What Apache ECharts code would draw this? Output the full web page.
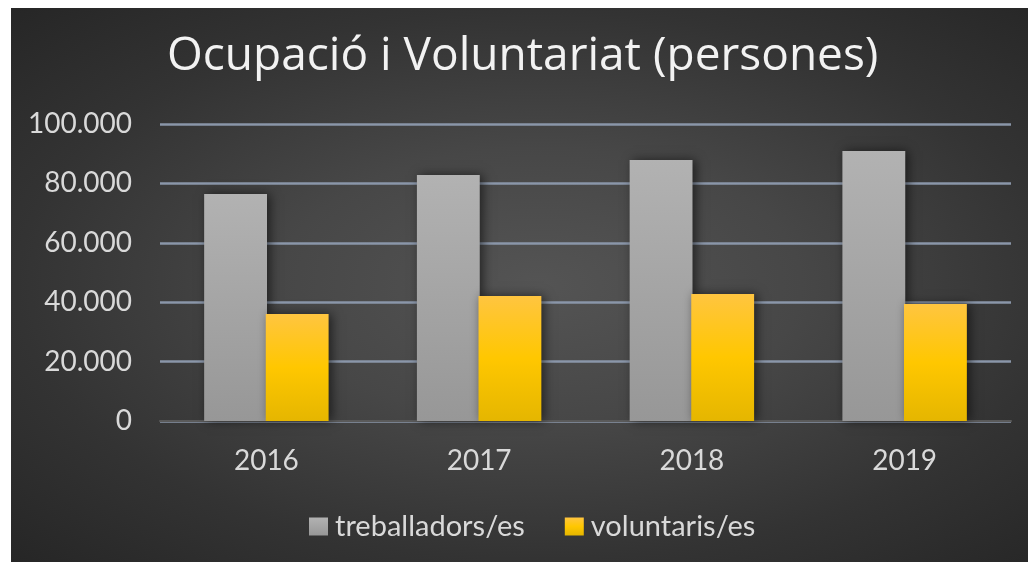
<!DOCTYPE html>
<html>
<head>
<meta charset="utf-8">
<script src="https://cdn.jsdelivr.net/npm/echarts@6/dist/echarts.min.js"></script>
<style>
    html, body { margin: 0; padding: 0; background: #fff; }
    #bg {
        position: absolute; left: 11px; top: 8px; width: 1017px; height: 554px;
        background: radial-gradient(ellipse at 52% 50%, #545454 0%, #474747 35%, #333333 70%, #262626 100%);
    }
    #chart { position: absolute; left: 0; top: 0; width: 1028px; height: 562px; }
</style>
</head>
<body>
<div id="bg"></div>
<div id="chart"></div>
<script>
    // dades llegides del gràfic
    const years = ['2016', '2017', '2018', '2019'];
    const treballadors = [76400, 82800, 87900, 90900];
    const voluntaris = [36000, 42100, 42800, 39400];
    const yTicks = { min: 0, max: 100000, interval: 20000 };

    const textColor = '#d9d9d9';
    const font = 'Lato';

    let chart = echarts.init(document.getElementById('chart'));

    let grayFill = new echarts.graphic.LinearGradient(0, 0, 0, 1, [
        { offset: 0, color: '#b2b2b2' },
        { offset: 1, color: '#979797' }
    ]);
    let yellowFill = new echarts.graphic.LinearGradient(0, 0, 0, 1, [
        { offset: 0, color: '#ffc540' },
        { offset: 0.5, color: '#ffc700' },
        { offset: 1, color: '#e5b600' }
    ]);

    let shadow = {
        shadowBlur: 10,
        shadowColor: 'rgba(0, 0, 0, 0.55)',
        shadowOffsetX: 3,
        shadowOffsetY: 0
    };

    let option = {
        backgroundColor: 'transparent',
        animation: false,
        title: {
            text: 'Ocupació i Voluntariat (persones)',
            left: 162,
            top: 29,
            textStyle: {
                color: '#f2f2f2',
                fontFamily: 'Open Sans',
                fontWeight: 'normal',
                fontSize: 46
            }
        },
        legend: {
            bottom: 16,
            left: 304,
            itemWidth: 19,
            itemHeight: 18,
            itemGap: 40,
            icon: 'rect',
            textStyle: {
                color: textColor,
                fontFamily: font,
                fontSize: 29,
                padding: [0, 0, 0, 2]
            },
            data: ['treballadors/es', 'voluntaris/es']
        },
        grid: {
            left: 160,
            right: 17,
            top: 124,
            bottom: 141,
            containLabel: false
        },
        xAxis: {
            type: 'category',
            data: years,
            axisTick: { show: false },
            axisLine: { lineStyle: { color: '#5a5a5a', width: 2 } },
            axisLabel: {
                color: textColor,
                fontFamily: font,
                fontSize: 28,
                margin: 26
            }
        },
        yAxis: {
            type: 'value',
            min: yTicks.min,
            max: yTicks.max,
            interval: yTicks.interval,
            axisLine: { show: false },
            axisTick: { show: false },
            splitLine: { lineStyle: { color: '#8a96a9', width: 2.5 } },
            axisLabel: {
                color: textColor,
                fontFamily: font,
                fontSize: 28,
                margin: 28,
                formatter: v => v === 0 ? '0' : v.toLocaleString('de-DE')
            }
        },
        series: [
            {
                name: 'treballadors/es',
                type: 'bar',
                data: treballadors,
                barGap: '-2%',
                barCategoryGap: '41.5%',
                itemStyle: Object.assign({ color: grayFill }, shadow)
            },
            {
                name: 'voluntaris/es',
                type: 'bar',
                data: voluntaris,
                itemStyle: Object.assign({ color: yellowFill }, shadow)
            }
        ]
    };

    chart.setOption(option);
</script>
</body>
</html>
